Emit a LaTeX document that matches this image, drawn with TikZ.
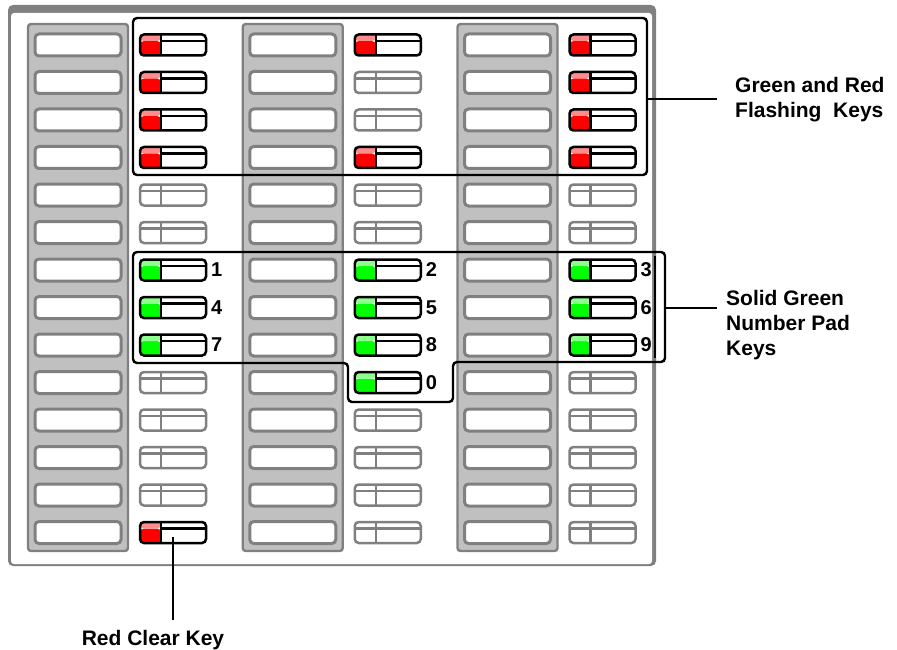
\documentclass[tikz,border=0pt]{standalone}
\usepackage{fontspec}
\setmainfont{Liberation Sans}
\usetikzlibrary{positioning}

\definecolor{framegray}{RGB}{128,128,128}
\definecolor{stripgray}{RGB}{192,192,192}
\definecolor{keygray}{RGB}{128,128,128}
\definecolor{ledred}{RGB}{255,0,0}
\definecolor{ledgreen}{RGB}{0,255,0}

\tikzset{
  strip/.style={rectangle, rounded corners=3pt, minimum width=100pt, minimum height=527pt,
    inner sep=0pt, outer sep=0pt, fill=stripgray, draw=keygray, line width=2.4pt},
  panelkey/.style={rectangle, rounded corners=4pt, minimum width=86pt, minimum height=22pt,
    inner sep=0pt, outer sep=0pt, fill=white, draw=keygray, line width=3pt},
  ledshape/.style={rectangle, rounded corners=4pt, minimum width=66pt, minimum height=21pt,
    inner sep=0pt, outer sep=0pt, fill=white, line width=2.5pt},
  ledoff/.style={ledshape, draw=keygray, path picture={
    \draw[keygray, line width=2.2pt] ([xshift=21pt]path picture bounding box.north west)
      -- ([xshift=21pt]path picture bounding box.south west);
    \draw[keygray, line width=2.2pt] ([yshift=-6.5pt]path picture bounding box.north west)
      -- ([yshift=-6.5pt]path picture bounding box.north east);}},
  ledlit/.style={ledshape, draw=black, path picture={
    \fill[#1] ([yshift=-6.5pt]path picture bounding box.north west)
      rectangle ([xshift=21pt]path picture bounding box.south west);
    \fill[#1!45] (path picture bounding box.north west)
      rectangle ([xshift=21pt,yshift=-6.5pt]path picture bounding box.north west);
    \draw[line width=2.4pt] ([xshift=21pt]path picture bounding box.north west)
      -- ([xshift=21pt]path picture bounding box.south west);
    \draw[line width=2.2pt] ([xshift=21pt,yshift=-6.5pt]path picture bounding box.north west)
      -- ([yshift=-6.5pt]path picture bounding box.north east);}},
  padnum/.style={inner sep=0.5pt, font=\fontsize{20}{20}\selectfont\bfseries},
  bracket/.style={draw=black, line width=2.4pt, rounded corners=4pt},
  leader/.style={draw=black, line width=2.4pt},
  callout/.style={inner sep=0pt, align=left, font=\fontsize{21}{25}\selectfont\bfseries}
}

\begin{document}
\begin{tikzpicture}[x=1pt,y=-1pt]
  \useasboundingbox (0,0) rectangle (897,650);
  % console frame
  \fill[framegray, rounded corners=5pt] (8,5) rectangle (656,566);
  \fill[white, rounded corners=3pt] (11,13) rectangle (652,564);

  % gray strips with the plain keys
  \foreach \c in {1,2,3} {
    \pgfmathsetmacro\sx{78+214.75*(\c-1)}
    \node[strip] (strip\c) at (\sx,287.5) {};
    \foreach \r in {1,...,14} {
      \pgfmathsetmacro\ky{45+37.5*(\r-1)}
      \node[panelkey] (key\c-\r) at (\sx,\ky) {};
    }
  }

  % unlit lamp keys
  \foreach \c/\rows in {1/{5,6,10,11,12,13},2/{2,3,5,6,11,12,13,14},3/{5,6,10,11,12,13,14}} {
    \foreach \r in \rows {
      \pgfmathsetmacro\lx{173+214.75*(\c-1)}
      \pgfmathsetmacro\ly{45+37.5*(\r-1)}
      \node[ledoff] (led\c-\r) at (\lx,\ly) {};
    }
  }
  % red lamp keys
  \foreach \c/\rows in {1/{1,2,3,4,14},2/{1,4},3/{1,2,3,4}} {
    \foreach \r in \rows {
      \pgfmathsetmacro\lx{173+214.75*(\c-1)}
      \pgfmathsetmacro\ly{45+37.5*(\r-1)}
      \node[ledlit=ledred] (led\c-\r) at (\lx,\ly) {};
    }
  }
  % green lamp keys
  \foreach \c/\rows in {1/{7,8,9},2/{7,8,9,10},3/{7,8,9}} {
    \foreach \r in \rows {
      \pgfmathsetmacro\lx{173+214.75*(\c-1)}
      \pgfmathsetmacro\ly{45+37.5*(\r-1)}
      \node[ledlit=ledgreen] (led\c-\r) at (\lx,\ly) {};
    }
  }
  \foreach \c/\r/\n in {1/7/1,1/8/4,1/9/7,2/7/2,2/8/5,2/9/8,2/10/0,3/7/3,3/8/6,3/9/9}
    \node[padnum, right=4.5pt of led\c-\r] (num\n) {\n};

  % brackets
  \draw[bracket] (133,18) rectangle (647,175);
  \draw[bracket] (133,252) -- (665,252) -- (665,362) -- (453,362) -- (453,402)
    -- (348,402) -- (348,363) -- (133,363) -- cycle;
  \draw[black, line width=2.2pt] (655,256) -- (655,358);
  \coordinate (flashedge) at (647,99);
  \coordinate (padedge) at (665,308);
  \coordinate (clearedge) at ([yshift=-4.5pt]led1-14.center);

  % callouts
  \node[callout, anchor=west] (flashlbl) at (735,100) {Green and Red\\Flashing~~Keys};
  \node[callout, anchor=north west] (padlbl) at (726,290) {Solid Green\\Number Pad\\Keys};
  \node[callout, anchor=base] (clearlbl) at (153,645) {Red Clear Key};
  \draw[leader, shorten >=18pt] (flashedge) -- (flashedge -| flashlbl.west);
  \draw[leader, shorten >=9pt] (padedge) -- (padedge -| padlbl.west);
  \draw[leader, shorten >=10pt] (clearedge) -- (clearedge |- clearlbl.north);
\end{tikzpicture}
\end{document}
